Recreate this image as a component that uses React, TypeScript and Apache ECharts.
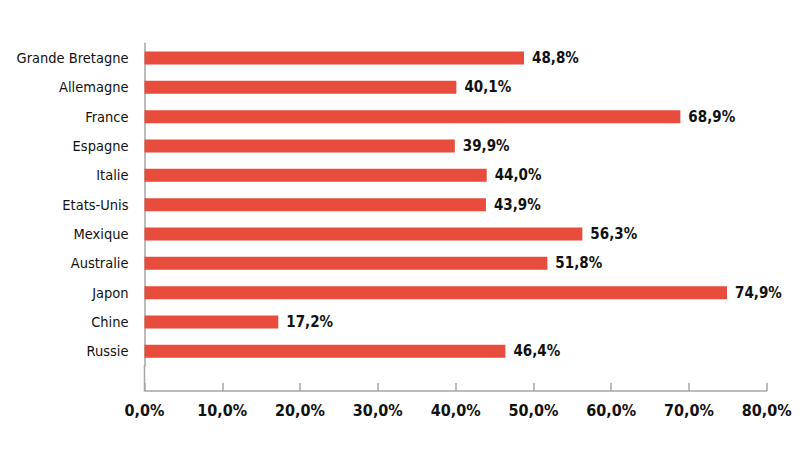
import React, { useEffect, useRef } from "react";
import * as echarts from "echarts";

const categories = [
  "Grande Bretagne",
  "Allemagne",
  "France",
  "Espagne",
  "Italie",
  "Etats-Unis",
  "Mexique",
  "Australie",
  "Japon",
  "Chine",
  "Russie",
];
const values = [48.8, 40.1, 68.9, 39.9, 44.0, 43.9, 56.3, 51.8, 74.9, 17.2, 46.4];
const xMin = 0;
const xMax = 80;
const xInterval = 10;

const FONT = "'Liberation Sans Narrow', 'DejaVu Sans Condensed', sans-serif";
const fmt = (v: number) => v.toFixed(1).replace(".", ",") + "%";

export default function App() {
  const ref = useRef<HTMLDivElement>(null);
  useEffect(() => {
    document.body.style.margin = "0";
    const chart = echarts.init(ref.current!, null, { renderer: "svg" });
    const gridLeft = 144.5;
    const gridTop = 43.3;
    const gridBottomPx = 366;
    const axisY = 391;
    chart.setOption({
      animation: false,
      backgroundColor: "#ffffff",
      grid: {
        left: gridLeft,
        right: 33.3,
        top: gridTop,
        bottom: 465 - gridBottomPx,
        containLabel: false,
      },
      xAxis: {
        type: "value",
        min: xMin,
        max: xMax,
        interval: xInterval,
        offset: axisY - gridBottomPx,
        axisLine: { show: true, lineStyle: { color: "#a6a6a6", width: 1.5 } },
        axisTick: { show: true, inside: true, length: 8, lineStyle: { color: "#a6a6a6", width: 1.5 } },
        splitLine: { show: false },
        axisLabel: {
          formatter: (v: number) => fmt(v),
          fontFamily: FONT,
          fontWeight: "bold",
          fontSize: 16,
          color: "#111",
          margin: 11,
        },
      },
      yAxis: {
        type: "category",
        data: categories,
        inverse: true,
        axisLine: { show: true, lineStyle: { color: "#a6a6a6", width: 1.5 } },
        axisTick: { show: false },
        axisLabel: {
          fontFamily: FONT,
          fontSize: 14.5,
          color: "#111",
          margin: 16,
        },
      },
      graphic: [
        {
          type: "line",
          shape: { x1: gridLeft, y1: gridBottomPx - 1, x2: gridLeft, y2: axisY },
          style: { stroke: "#a6a6a6", lineWidth: 1.5 },
          silent: true,
        },
      ],
      series: [
        {
          type: "bar",
          data: values,
          barWidth: 13,
          itemStyle: { color: "#e84c3d" },
          label: {
            show: true,
            position: "right",
            distance: 8,
            formatter: (p: any) => fmt(p.value),
            fontFamily: FONT,
            fontWeight: "bold",
            fontSize: 15,
            color: "#111",
          },
        },
      ],
    });
    return () => chart.dispose();
  }, []);
  return <div ref={ref} style={{ width: 800, height: 465 }} />;
}
